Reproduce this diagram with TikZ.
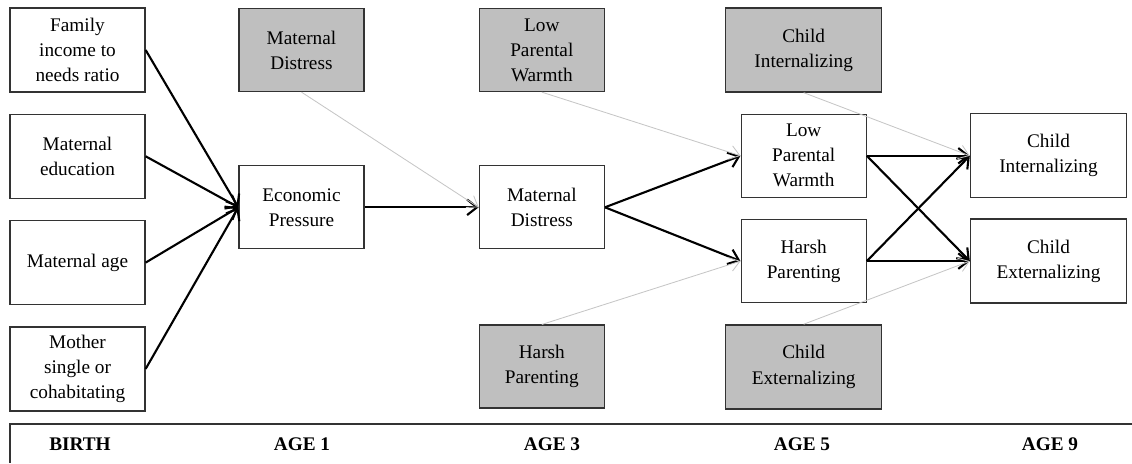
\documentclass[tikz,border=0pt]{standalone}
\usepackage{fontspec}
\setmainfont{Liberation Serif}
\usetikzlibrary{positioning}
\usetikzlibrary{arrows.meta, positioning}
\definecolor{covgray}{RGB}{191,191,191}
\tikzstyle{varbox} = [draw=black!80, line width=0.9pt, align=center, inner sep=2pt, font=\fontsize{13.7}{17.8}\selectfont]
\tikzstyle{leftbox} = [varbox, minimum width=3.375cm, minimum height=2.1cm]
\tikzstyle{midbox} = [varbox, minimum width=3.125cm, minimum height=2.075cm]
\tikzstyle{widebox} = [varbox, minimum width=3.9cm, minimum height=2.1cm]
\tikzstyle{prior} = [fill=covgray]
\tikzstyle{arrow} = [line width=1.5pt, -{Straight Barb[length=7pt, width=11pt]}]
\tikzstyle{priorarrow} = [line width=0.6pt, gray!45, -{Straight Barb[length=7pt, width=10pt]}]
\tikzstyle{agelabel} = [font=\fontsize{13.7}{17.8}\selectfont\bfseries]

\begin{document}
\begin{tikzpicture}[x=0.025cm, y=-0.025cm]
    \useasboundingbox (0,0) rectangle (1132,463);

    % Nodes
    \node[leftbox] (income) at (77.5,50) {Family\\income to\\needs ratio};
    \node[leftbox, below=0.525cm of income] (edu) {Maternal\\education};
    \node[leftbox, below=0.525cm of edu] (mage) {Maternal age};
    \node[leftbox, below=0.525cm of mage] (single) {Mother\\single or\\cohabitating};

    \node[midbox, prior] (md1) at (301.5,50) {Maternal\\Distress};
    \node[midbox, below=1.825cm of md1] (ep) {Economic\\Pressure};

    \node[midbox, prior, right=2.85cm of md1] (lpw3) {Low\\Parental\\Warmth};
    \node[midbox, right=2.85cm of ep] (md3) {Maternal\\Distress};
    \node[midbox, prior, below=1.875cm of md3] (hp3) {Harsh\\Parenting};

    \node[widebox, prior, right=3cm of lpw3] (ci5) {Child\\Internalizing};
    \node[midbox, below=0.525cm of ci5] (lpw5) {Low\\Parental\\Warmth};
    \node[midbox, below=0.525cm of lpw5] (hp5) {Harsh\\Parenting};
    \node[widebox, prior, below=0.525cm of hp5] (ce5) {Child\\Externalizing};

    \node[widebox, right=2.575cm of lpw5] (ci9) {Child\\Internalizing};
    \node[widebox, right=2.575cm of hp5] (ce9) {Child\\Externalizing};

    % Timeline
    \draw[draw=black!80, line width=0.9pt] (1132,424) -- (10,424) -- (10,463);
    \node[agelabel] (birth) at (80,444) {BIRTH};
    \node[agelabel] (age1) at (302,444) {AGE 1};
    \node[agelabel] (age3) at (552,444) {AGE 3};
    \node[agelabel] (age5) at (802,444) {AGE 5};
    \node[agelabel] (age9) at (1050,444) {AGE 9};

    % Edges
    \draw[arrow] (income.east) -- (ep.west);
    \draw[arrow] (edu.east) -- (ep.west);
    \draw[arrow] (mage.east) -- (ep.west);
    \draw[arrow] (single.east) -- (ep.west);
    \draw[arrow] (ep.east) -- (md3.west);
    \draw[arrow] (md3.east) -- (lpw5.west);
    \draw[arrow] (md3.east) -- (hp5.west);
    \draw[arrow] (lpw5.east) -- (ci9.west);
    \draw[arrow] (lpw5.east) -- (ce9.west);
    \draw[arrow] (hp5.east) -- (ce9.west);
    \draw[arrow] (hp5.east) -- (ci9.west);

    \draw[priorarrow] (md1.south) -- (md3.west);
    \draw[priorarrow] (lpw3.south) -- (lpw5.west);
    \draw[priorarrow] (hp3.north) -- (hp5.west);
    \draw[priorarrow] (ci5.south) -- (ci9.west);
    \draw[priorarrow] (ce5.north) -- (ce9.west);
\end{tikzpicture}
\end{document}
